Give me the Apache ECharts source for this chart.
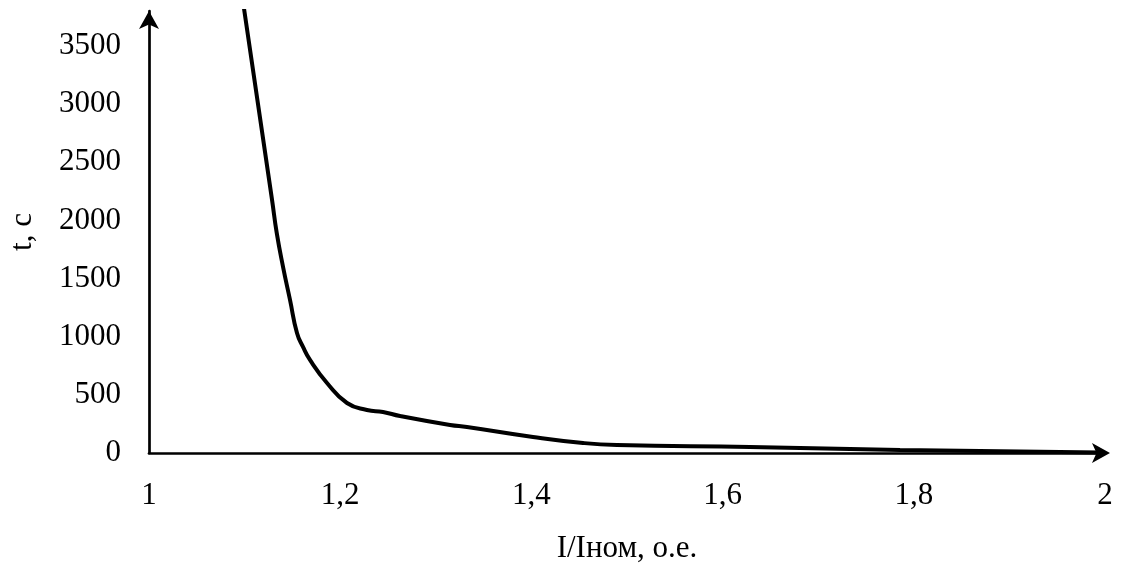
<!DOCTYPE html>
<html>
<head>
<meta charset="utf-8">
<script src="https://cdn.jsdelivr.net/npm/echarts@6/dist/echarts.min.js"></script>
<style>html,body{margin:0;padding:0;background:#fff}#c{width:1127px;height:564px}</style>
</head>
<body>
<div id="c"></div>
<script>
const currentRatio = [1.0994, 1.1287, 1.1336, 1.1402, 1.1475, 1.1548, 1.1611, 1.1684, 1.1862, 1.2071, 1.228, 1.2448, 1.2626, 1.3149, 1.3326, 1.4017, 1.454, 1.4895, 1.6287, 1.7856, 1.9948];
const timeSec = [3820, 2176, 1892, 1600, 1316, 1032, 912, 800, 602, 430, 370, 353, 318, 241, 224, 138, 86, 68, 51, 26, 5];
const xTicks = [1, 1.2, 1.4, 1.6, 1.8, 2];
const yTicks = [0, 500, 1000, 1500, 2000, 2500, 3000, 3500];
const xTitle = 'I/Iном, о.е.';
const yTitle = 't, с';

const font = 'Liberation Serif';
const chart = echarts.init(document.getElementById('c'), null, {renderer: 'canvas'});
chart.setOption({
  animation: false,
  backgroundColor: '#fff',
  grid: {left: 149, right: 22, top: 11, bottom: 111, containLabel: false, outerBoundsMode: 'none'},
  xAxis: {
    type: 'value', min: xTicks[0], max: xTicks[xTicks.length - 1], interval: 0.2,
    name: xTitle, nameLocation: 'middle', nameGap: 80, nameMoveOverlap: false,
    nameTextStyle: {fontFamily: font, fontSize: 31, color: '#000'},
    axisLine: {show: true, lineStyle: {color: '#000', width: 2.7}, symbol: ['none', 'arrow'], symbolSize: [15, 18], symbolOffset: [0, 5]},
    axisTick: {show: false},
    splitLine: {show: false},
    axisLabel: {fontFamily: font, fontSize: 31, color: '#000', margin: 27,
      formatter: v => String(+(+v).toFixed(1)).replace('.', ',')}
  },
  yAxis: {
    type: 'value', min: 0, max: 3800, interval: 500,
    name: yTitle, nameLocation: 'middle', nameGap: 111, nameRotate: 90, nameMoveOverlap: false,
    nameTextStyle: {fontFamily: font, fontSize: 31, color: '#000'},
    axisLine: {show: true, onZero: false, lineStyle: {color: '#000', width: 2.7}, symbol: ['none', 'arrow'], symbolSize: [15, 18]},
    axisTick: {show: false},
    splitLine: {show: false},
    axisLabel: {fontFamily: font, fontSize: 31, color: '#000', margin: 28, showMaxLabel: false,
      formatter: v => yTicks.includes(v) ? String(v) : ''}
  },
  series: [{
    type: 'line',
    data: currentRatio.map((x, i) => [x, timeSec[i]]),
    smooth: 0.5,
    showSymbol: false,
    clip: true,
    lineStyle: {color: '#000', width: 4}
  }]
});
</script>
</body>
</html>
